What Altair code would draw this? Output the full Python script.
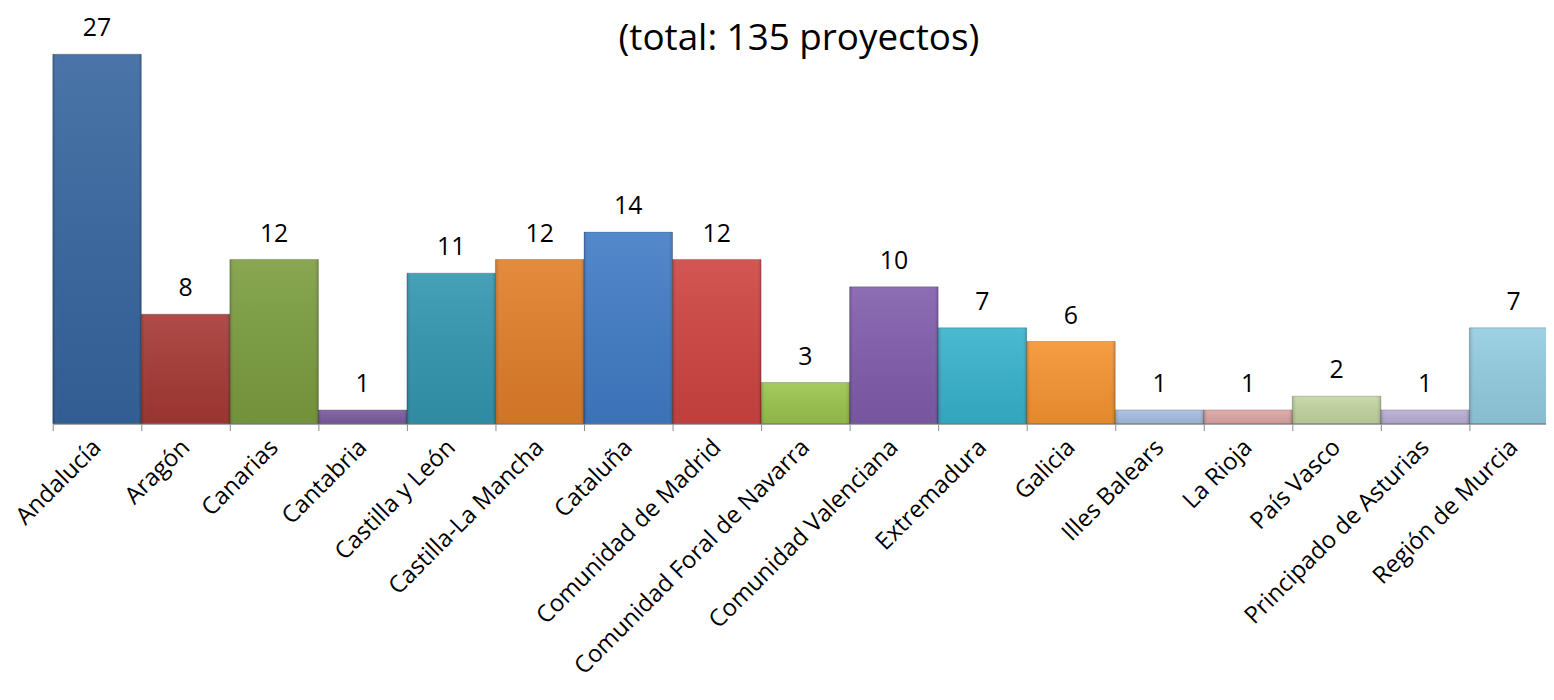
import altair as alt
import pandas as pd

regiones = [
    "Andalucía", "Aragón", "Canarias", "Cantabria", "Castilla y León",
    "Castilla-La Mancha", "Cataluña", "Comunidad de Madrid",
    "Comunidad Foral de Navarra", "Comunidad Valenciana", "Extremadura",
    "Galicia", "Illes Balears", "La Rioja", "País Vasco",
    "Principado de Asturias", "Región de Murcia",
]
proyectos = [27, 8, 12, 1, 11, 12, 14, 12, 3, 10, 7, 6, 1, 1, 2, 1, 7]
colores = [
    "#2f609c", "#a3322e", "#779a38", "#76569c", "#2a93ad",
    "#e07a22", "#3a77c4", "#cd3d3a", "#98c246", "#7c57a9",
    "#30b0cb", "#f6902a", "#a3bce0", "#dca3a2", "#c1d49e",
    "#b8abd5", "#8fcbe0",
]
titulo = "(total: 135 proyectos)"

df = pd.DataFrame({"region": regiones, "n": proyectos})

W, H = 1501, 385
FULL_W = 1513  # the last band runs past the right edge, as in the original
FONT = "Open Sans"

x = alt.X(
    "region:N",
    sort=regiones,
    scale=alt.Scale(paddingInner=0, paddingOuter=0, range=[0, FULL_W]),
    axis=alt.Axis(
        title=None,
        labelAngle=-45,
        labelAlign="right",
        labelBaseline="middle",
        labelFontSize=24,
        labelFont=FONT,
        labelColor="#000000",
        labelPadding=13,
        labelLimit=500,
        tickBand="extent",
        tickSize=7,
        tickColor="#8c8c8c",
        domainColor="#8c8c8c",
        domainWidth=1.5,
        labelOverlap=False,
    ),
)
y = alt.Y("n:Q", scale=alt.Scale(domain=[0, 28], nice=False), axis=None)

bars = alt.Chart(df).mark_bar(
    stroke="#000000", strokeOpacity=0.22, strokeWidth=1
).encode(
    x=x,
    y=y,
    color=alt.Color("region:N", scale=alt.Scale(domain=regiones, range=colores), legend=None),
)

shade = alt.Chart(df).mark_bar(
    color=alt.Gradient(
        gradient="linear",
        x1=0, x2=1, y1=0, y2=0,
        stops=[
            alt.GradientStop(offset=0, color="rgba(0,0,0,0.16)"),
            alt.GradientStop(offset=0.06, color="rgba(255,255,255,0.03)"),
            alt.GradientStop(offset=0.94, color="rgba(255,255,255,0.03)"),
            alt.GradientStop(offset=1, color="rgba(0,0,0,0.16)"),
        ],
    )
).encode(x=x, y=y)

light = alt.Chart(df).mark_bar(
    color=alt.Gradient(
        gradient="linear",
        x1=0, x2=0, y1=0, y2=1,
        stops=[
            alt.GradientStop(offset=0, color="rgba(255,255,255,0.10)"),
            alt.GradientStop(offset=1, color="rgba(0,0,0,0.08)"),
        ],
    )
).encode(x=x, y=y)

labels = alt.Chart(df).mark_text(
    baseline="alphabetic", dy=-18, fontSize=25, font=FONT, color="#000000"
).encode(x=x, y=y, text="n:Q")

title = alt.Chart(pd.DataFrame({"t": [titulo]})).mark_text(
    fontSize=37, font=FONT, color="#000000", baseline="alphabetic", align="center"
).encode(x=alt.value(750), y=alt.value(9), text="t:N")

chart = alt.layer(bars, light, shade, labels, title).properties(
    width=W,
    height=H,
    autosize=alt.AutoSizeParams(type="none"),
    padding={"left": 45, "top": 31, "right": 0, "bottom": 262},
).configure(background="#ffffff").configure_view(stroke=None)

chart.save("out.html", embed_options={"renderer": "svg", "actions": False})
